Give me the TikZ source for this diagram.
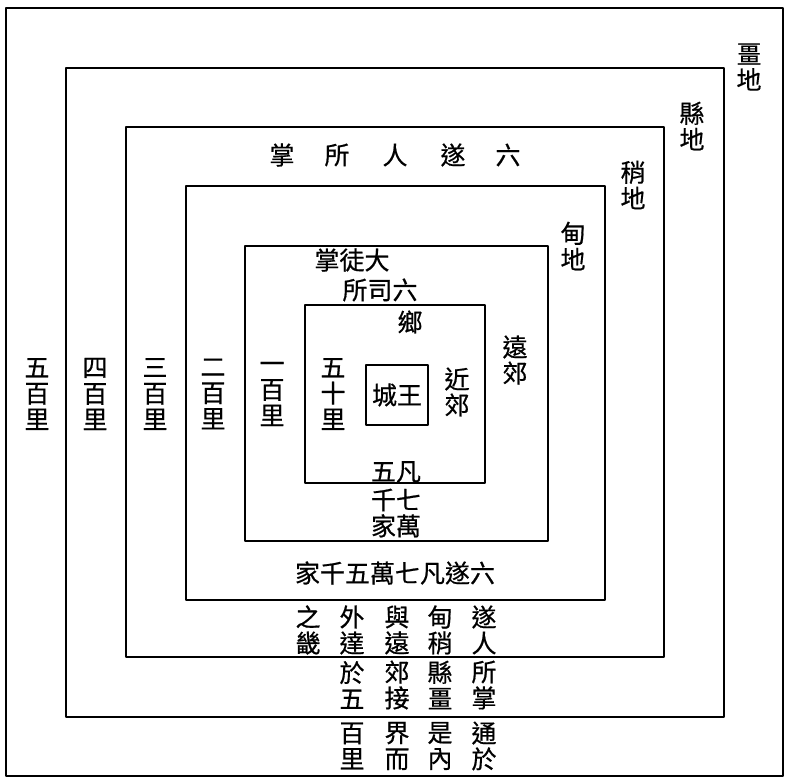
\documentclass[tikz,border=0pt]{standalone}
\usepackage{fontspec}
\newfontfamily\cjk[FakeBold=0.6]{Noto Sans CJK TC}
\begin{document}
\begin{tikzpicture}[x=1pt,y=-1pt,line width=2.2pt,line join=round,line cap=round,font=\cjk\fontsize{25}{26}\selectfont]
\tikzset{lbl/.style={inner sep=0pt,align=center}}
\useasboundingbox (0,0) rectangle (787,779);
%\draw[gray!40,thin,step=50] (0,0) grid (787,779);
\draw (6,8) rectangle (783,776);
\foreach \a/\b/\c/\d in {66/68/724/717,126/127/664/657,186/186/605/600,245/246/548/541,305/305/485/483,366/365/428/425}
\draw (\a,\b) rectangle (\c,\d);
% names of the belts
\node[lbl] (jiang) at (749,67) {畺\\地};
\node[lbl] (xian) at (692,126) {縣\\地};
\node[lbl] (shao) at (633,185) {稍\\地};
\node[lbl] (dian) at (573,246) {甸\\地};
\node[lbl] (yuanjiao) at (515,360) {遠\\郊};
\node[lbl] (jinjiao) at (457,392) {近\\郊};
\node[lbl] (wangcheng) at (397,395) {城王};
\node[lbl] (xiang) at (410,322) {鄉};
\node[lbl] (wushi) at (333,394) {五\\十\\里};
\foreach \x/\n in {37/1,95/2,155/3,213/4,272/5}
\node[lbl] (li\n) at (\x,394) {\ifcase\n\or 五\or 四\or 三\or 二\or 一\fi\\百\\里};
% the officers
\foreach \x/\ch [count=\i] in {282/掌,337/所,395/人,453/遂,508/六}
\node[lbl] (suiren\i) at (\x,155) {\ch};
\node[lbl] (situ) at (352,260) {掌徒大};
\node[lbl] (sisuo) at (380,290) {所司六};
\node[lbl] (fanwu) at (396,472) {五凡};
\node[lbl] (qianwan) at (396,513) {千七\\家萬};
\node[lbl] (liusui) at (395,573) {家千五萬七凡遂六};
% note below
\foreach \x/\p/\q/\r [count=\i] in {484/{遂\\人}/{所\\掌}/{通\\於},440/{甸\\稍}/{縣\\畺}/{是\\內},397/{與\\遠}/{郊\\接}/{界\\而},352/{外\\達}/{於\\五}/{百\\里}}
{\node[lbl] (p\i) at (\x,630) {\p};
\node[lbl] (q\i) at (\x,685) {\q};
\node[lbl] (r\i) at (\x,746) {\r};}
\node[lbl] (p5) at (308,630) {之\\畿};
\end{tikzpicture}
\end{document}
